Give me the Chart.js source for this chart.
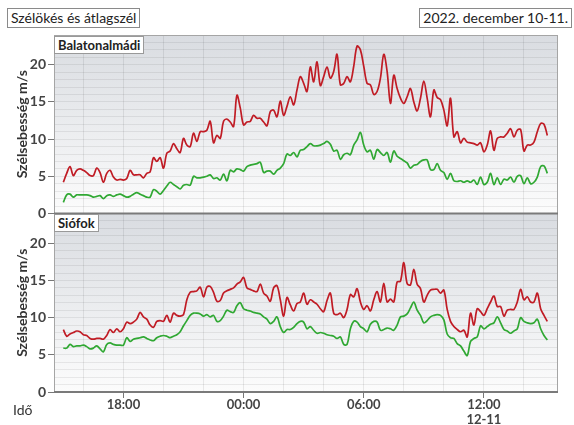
<!DOCTYPE html>
<html>
<head>
<meta charset="utf-8">
<script src="https://cdn.jsdelivr.net/npm/chart.js@4.4.0/dist/chart.umd.min.js"></script>
<style>
  html, body { margin: 0; padding: 0; background: #fff; }
  #wrap { position: relative; width: 574px; height: 425px; font-family: Lato, 'DejaVu Sans', sans-serif; color: #222; }
  #wrap canvas { position: absolute; left: 0; top: 0; }
  .box { position: absolute; background: #fff; border: 1px solid #8a8a8a; font-size: 14px; line-height: 18px; padding: 0 3px; white-space: nowrap; z-index: 2; }
  .panel { font-size: 13px; line-height: 16px; font-weight: bold; border-color: #999; }
  #ido { position: absolute; left: 13px; top: 401px; font-size: 14px; color: #333; }
</style>
</head>
<body>
<div id="wrap">
  <canvas id="windChart" width="574" height="425"></canvas>
  <div class="box" style="left:7px; top:8px;">Szélökés és átlagszél</div>
  <div class="box" style="right:2px; top:8px;">2022. december 10-11.</div>
  <div class="box panel" style="left:54px; top:36px;">Balatonalmádi</div>
  <div class="box panel" style="left:54px; top:214px;">Siófok</div>
  <div id="ido">Idő</div>
</div>
<script>
// 10 perces adatok, 2022-12-10 15:00-tól (perc 00:00-tól számolva)
const startMinute = 15 * 60;
const stepMinutes = 10;

// Balatonalmádi - széllökés (m/s)
const gustAlmadi = [
  4.2, 5.4, 6.3, 5.1, 5.8, 6.0, 5.8, 5.5, 5.1, 5.1, 6.1, 5.5, 4.2, 5.4, 5.8, 4.9, 4.5, 4.6, 4.5, 4.7,
  5.8, 5.2, 5.2, 5.2, 4.8, 5.4, 5.6, 7.5, 7.0, 7.5, 6.1, 8.1, 8.4, 9.4, 8.7, 8.2, 10.1, 9.2, 9.0, 10.8,
  9.7, 11.0, 11.0, 11.2, 12.4, 9.5, 10.5, 10.1, 12.4, 12.7, 12.3, 11.7, 15.9, 14.2, 11.9, 12.3, 12.4, 13.2, 12.8, 12.8,
  12.3, 11.8, 13.7, 13.9, 13.0, 15.1, 13.2, 14.4, 15.7, 14.6, 16.6, 18.4, 17.5, 16.4, 19.7, 17.7, 20.4, 17.2, 18.4, 19.7,
  18.2, 19.1, 21.4, 17.3, 17.5, 18.4, 17.7, 19.8, 22.5, 22.0, 19.8, 17.5, 17.3, 16.0, 16.4, 18.2, 21.4, 19.1, 14.8, 18.6,
  16.8, 15.5, 14.8, 15.7, 16.8, 15.0, 13.8, 15.5, 17.8, 15.5, 13.0, 16.6, 15.6, 15.3, 13.9, 11.8, 15.5, 10.3, 11.0, 9.5,
  10.1, 9.6, 9.5, 9.4, 9.2, 9.5, 8.3, 9.2, 11.1, 8.5, 10.1, 10.3, 10.3, 10.8, 11.4, 10.3, 11.2, 11.3, 8.4, 9.2,
  9.2, 9.6, 11.0, 12.1, 12.0, 10.5
];
// Balatonalmádi - átlagszél (m/s)
const meanAlmadi = [
  1.5, 2.5, 2.6, 2.2, 2.5, 2.5, 2.5, 2.5, 2.4, 2.2, 2.3, 2.4, 2.0, 2.4, 2.5, 2.3, 2.5, 2.6, 2.4, 2.2,
  2.3, 2.6, 2.8, 2.6, 2.4, 2.2, 2.2, 3.2, 3.0, 2.6, 3.1, 3.7, 4.2, 3.9, 3.6, 3.3, 3.8, 3.9, 3.8, 5.0,
  4.8, 4.8, 4.9, 5.0, 5.2, 4.7, 4.8, 4.5, 5.3, 4.4, 5.8, 5.6, 6.0, 5.9, 5.7, 6.3, 6.5, 6.6, 6.7, 6.9,
  5.5, 5.7, 5.7, 5.3, 5.8, 6.1, 6.7, 8.0, 7.8, 8.2, 7.6, 8.5, 8.6, 9.0, 9.4, 9.1, 9.1, 9.2, 9.4, 9.7,
  9.3, 8.4, 8.5, 7.3, 7.9, 8.1, 7.9, 9.2, 9.9, 10.9, 9.2, 8.3, 8.5, 7.3, 8.6, 8.2, 7.8, 8.2, 6.9, 8.4,
  7.7, 7.4, 7.1, 6.8, 6.1, 6.5, 6.6, 7.0, 7.2, 7.2, 5.9, 5.9, 6.7, 5.8, 5.5, 4.6, 5.4, 4.4, 4.3, 4.4,
  4.2, 4.4, 4.2, 4.5, 3.9, 4.9, 3.9, 4.2, 5.4, 3.9, 4.8, 3.9, 4.6, 4.5, 4.9, 4.2, 5.0, 5.1, 4.0, 4.8,
  4.0, 4.2, 4.9, 6.3, 6.4, 5.4
];
// Siófok - széllökés (m/s)
const gustSiofok = [
  8.4, 7.5, 7.8, 8.0, 8.2, 8.1, 7.7, 7.6, 7.2, 7.1, 7.2, 7.2, 7.1, 7.6, 8.4, 8.0, 8.5, 8.1, 8.5, 9.4,
  9.2, 9.4, 9.8, 10.7, 10.1, 9.8, 9.0, 8.7, 9.5, 9.6, 9.5, 10.3, 9.4, 10.6, 10.3, 10.2, 10.4, 12.4, 13.4, 13.5,
  13.6, 14.1, 12.8, 14.1, 14.2, 13.4, 12.2, 12.3, 13.3, 13.6, 13.8, 14.0, 14.5, 14.8, 15.4, 14.0, 13.8, 13.6, 13.5, 14.5,
  13.3, 12.9, 12.2, 14.0, 14.3, 12.4, 10.2, 12.7, 11.7, 10.9, 11.9, 12.1, 13.3, 11.8, 12.4, 12.1, 11.8, 11.2, 10.8, 12.3,
  13.3, 10.6, 10.4, 10.6, 10.0, 11.1, 13.1, 12.8, 13.9, 12.1, 11.1, 11.6, 10.9, 12.4, 13.5, 12.1, 14.6, 12.1, 12.5, 12.1,
  14.8, 14.9, 17.4, 14.6, 14.4, 16.5, 14.5, 13.9, 12.1, 13.0, 13.7, 13.8, 13.8, 13.3, 13.7, 11.1, 9.5, 8.8, 8.4, 8.1,
  8.3, 7.4, 10.6, 9.0, 11.2, 10.8, 10.3, 11.2, 12.1, 12.9, 11.5, 11.5, 10.2, 11.0, 11.1, 11.1, 12.1, 13.8, 12.4, 12.8,
  12.1, 12.1, 13.3, 11.2, 10.3, 9.5
];
// Siófok - átlagszél (m/s)
const meanSiofok = [
  5.9, 5.9, 6.4, 6.1, 6.2, 6.2, 6.3, 6.1, 5.8, 5.9, 6.2, 5.8, 5.4, 6.4, 6.6, 6.4, 6.3, 6.3, 6.3, 7.3,
  6.8, 7.1, 7.2, 7.3, 7.4, 7.2, 7.0, 6.9, 7.3, 7.5, 7.6, 7.5, 7.3, 7.5, 7.7, 8.1, 8.9, 9.6, 10.3, 10.6,
  10.6, 10.5, 10.2, 10.4, 10.1, 10.3, 9.5, 9.6, 10.2, 11.0, 10.8, 10.7, 11.6, 12.0, 11.2, 11.0, 10.9, 10.7, 10.6, 10.5,
  10.1, 9.8, 9.2, 9.5, 10.1, 8.8, 8.0, 8.4, 8.4, 8.7, 9.2, 9.5, 9.4, 8.5, 8.8, 8.3, 7.9, 8.0, 7.9, 7.7,
  7.6, 7.5, 7.2, 7.4, 6.4, 6.4, 8.5, 9.5, 9.4, 8.8, 8.5, 8.1, 9.1, 9.5, 9.4, 8.3, 8.4, 8.6, 8.5, 8.3,
  9.0, 10.1, 10.2, 10.5, 11.3, 12.1, 11.0, 10.3, 9.3, 9.6, 10.1, 10.3, 10.4, 10.3, 9.7, 7.8, 7.3, 7.2, 6.5, 6.2,
  5.5, 4.9, 6.8, 7.2, 7.4, 8.9, 8.5, 8.8, 9.1, 9.3, 10.1, 9.3, 8.4, 8.2, 7.9, 8.2, 8.5, 10.0, 9.5, 9.3,
  9.2, 9.3, 9.8, 8.5, 7.6, 7.0
];

// x tengely: rácsvonalak 2 óránként, feliratok 6 óránként
const xGridMinutes = [960, 1080, 1200, 1320, 1440, 1560, 1680, 1800, 1920, 2040, 2160, 2280];
const xLabelMinutes = [1080, 1440, 1800, 2160];
const xLabelText = ['18:00', '00:00', '06:00', ['12:00', '12-11']];
// y tengely feliratok
const yLabelValues = [0, 5, 10, 15, 20];

const RED = '#c01c25';
const GREEN = '#30a833';
const TICK_FONT = { family: 'Lato', size: 14, weight: 'bold' };

function toPoints(values) {
    return values.map((v, i) => ({ x: startMinute + i * stepMinutes, y: v }));
}

function lineDataset(label, values, color, axis) {
    return {
        label: label,
        data: toPoints(values),
        yAxisID: axis,
        borderColor: color,
        backgroundColor: color,
        borderWidth: 1.7,
        pointRadius: 0,
        tension: 0.35,
        fill: false
    };
}

function yScale() {
    return {
        type: 'linear',
        position: 'left',
        stack: 'panels',
        stackWeight: 1,
        min: 0,
        max: 24,
        border: { display: false },
        grid: {
            color: 'rgba(0, 0, 0, 0.07)',
            tickLength: 6,
            tickColor: ctx => (ctx.tick && yLabelValues.includes(ctx.tick.value)) ? '#777' : 'transparent'
        },
        ticks: {
            stepSize: 1,
            autoSkip: false,
            padding: 2,
            color: '#444',
            font: TICK_FONT,
            callback: value => yLabelValues.includes(value) ? String(value) : ''
        },
        title: {
            display: true,
            text: 'Szélsebesség m/s',
            color: '#333',
            font: { family: 'Lato', size: 14, weight: 'bold' },
            padding: { top: 14, bottom: 0 }
        },
        afterFit: scale => { scale.width = 54; }
    };
}

// panel hátterek és keretek
const panelPlugin = {
    id: 'panels',
    beforeDraw(chart) {
        const { ctx, chartArea } = chart;
        ['yTop', 'yBottom'].forEach(id => {
            const s = chart.scales[id];
            const g = ctx.createLinearGradient(0, s.top, 0, s.bottom);
            g.addColorStop(0, '#d9dce1');
            g.addColorStop(1, '#fcfcfc');
            ctx.save();
            ctx.fillStyle = g;
            ctx.fillRect(chartArea.left, s.top, chartArea.right - chartArea.left, s.bottom - s.top);
            ctx.restore();
        });
    },
    afterDraw(chart) {
        const { ctx, chartArea } = chart;
        const mid = chart.scales.yTop.bottom;
        ctx.save();
        ctx.strokeStyle = '#a5a5a5';
        ctx.lineWidth = 1;
        ctx.strokeRect(chartArea.left + 0.5, chartArea.top + 0.5, chartArea.right - chartArea.left - 1, chartArea.bottom - chartArea.top - 1);
        ctx.strokeStyle = '#7a7a7a';
        ctx.lineWidth = 2;
        ctx.beginPath();
        ctx.moveTo(chartArea.left, mid);
        ctx.lineTo(chartArea.right, mid);
        ctx.moveTo(chartArea.left, chartArea.bottom);
        ctx.lineTo(chartArea.right, chartArea.bottom);
        ctx.stroke();
        ctx.restore();
    }
};

document.addEventListener('DOMContentLoaded', function() {
    const ctx = document.getElementById('windChart').getContext('2d');

    new Chart(ctx, {
        type: 'line',
        data: {
            datasets: [
                lineDataset('Széllökés', gustAlmadi, RED, 'yTop'),
                lineDataset('Átlagszél', meanAlmadi, GREEN, 'yTop'),
                lineDataset('Széllökés', gustSiofok, RED, 'yBottom'),
                lineDataset('Átlagszél', meanSiofok, GREEN, 'yBottom')
            ]
        },
        options: {
            responsive: false,
            animation: false,
            layout: { padding: { top: 35, right: 16, left: 0, bottom: 0 } },
            plugins: {
                legend: { display: false },
                tooltip: { enabled: false }
            },
            scales: {
                x: {
                    type: 'linear',
                    min: 872,
                    max: 2382,
                    border: { display: false },
                    afterBuildTicks: scale => {
                        scale.ticks = xGridMinutes.map(v => ({ value: v }));
                    },
                    grid: {
                        color: 'rgba(0, 0, 0, 0.08)',
                        tickLength: 6,
                        tickColor: ctx => (ctx.tick && xLabelMinutes.includes(ctx.tick.value)) ? '#777' : 'transparent'
                    },
                    ticks: {
                        autoSkip: false,
                        maxRotation: 0,
                        padding: 0,
                        color: '#444',
                        font: { family: 'Lato', size: 13, weight: 'bold', lineHeight: 1.1 },
                        callback: value => {
                            const idx = xLabelMinutes.indexOf(value);
                            return idx >= 0 ? xLabelText[idx] : '';
                        }
                    },
                    afterFit: scale => { scale.height = 33; }
                },
                // a stack-ben a később megadott tengely kerül felülre
                yBottom: yScale(),
                yTop: yScale()
            }
        },
        plugins: [panelPlugin]
    });
});
</script>
</body>
</html>
